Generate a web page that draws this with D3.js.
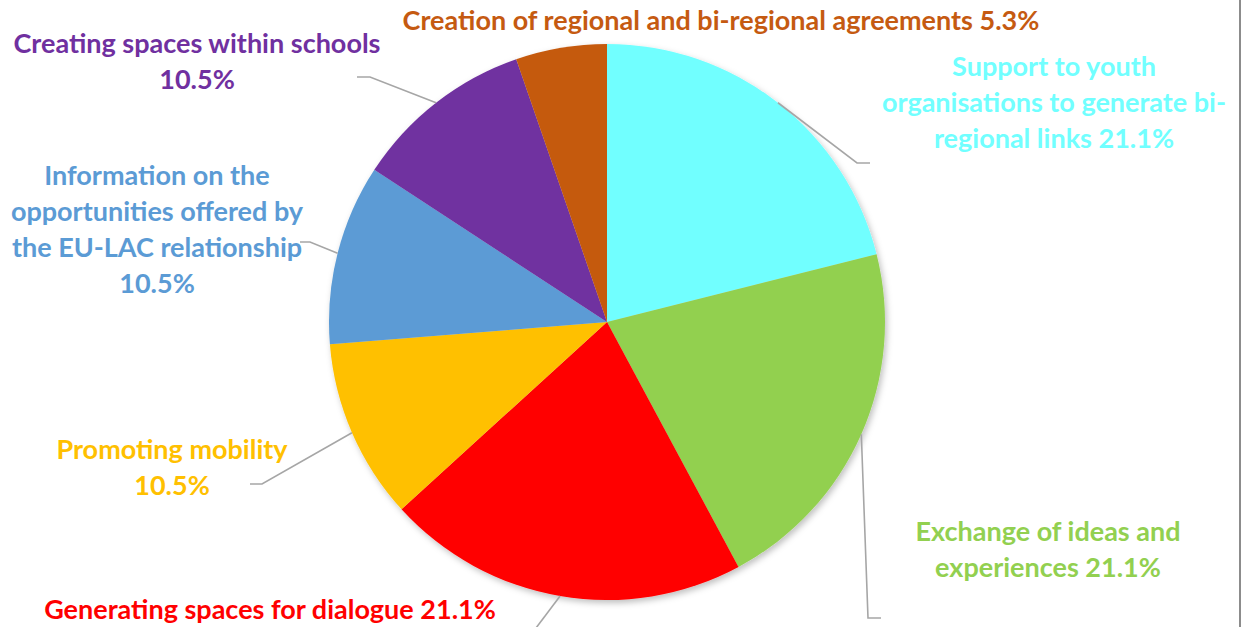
<!DOCTYPE html>
<html>
<head>
<meta charset="utf-8">
<script src="https://cdn.jsdelivr.net/npm/d3@7"></script>
<style>
  body { margin: 0; background: #fff; }
  text { font-family: Lato, "Open Sans", sans-serif; font-weight: bold; }
</style>
</head>
<body>
<svg id="chart" width="1248" height="627"></svg>
<script>
// slices, clockwise from 12 o'clock
const categories = [
  "Support to youth organisations to generate bi-regional links",
  "Exchange of ideas and experiences",
  "Generating spaces for dialogue",
  "Promoting mobility",
  "Information on the opportunities offered by the EU-LAC relationship",
  "Creating spaces within schools",
  "Creation of regional and bi-regional agreements"
];
const shares = [21.1, 21.1, 21.1, 10.5, 10.5, 10.5, 5.3];
const colors = ["#71FFFF", "#92D050", "#FF0000", "#FFC000", "#5B9BD5", "#7030A0", "#C55A11"];
// label text as it wraps in the picture
const labelLines = [
  ["Support to youth", "organisations to generate bi-", "regional links 21.1%"],
  ["Exchange of ideas and", "experiences 21.1%"],
  ["Generating spaces for dialogue 21.1%"],
  ["Promoting mobility", "10.5%"],
  ["Information on the", "opportunities offered by", "the EU-LAC relationship", "10.5%"],
  ["Creating spaces within schools", "10.5%"],
  ["Creation of regional and bi-regional agreements 5.3%"]
];

// layout: label centre x, first baseline, leader elbow + end
const layout = [
  { x: 1054, y: 76,  elbow: [857, 163], end: [870, 163] },
  { x: 1048, y: 541, elbow: [868, 618], end: [881, 618] },
  { x: 270,  y: 619, elbow: [533, 632], end: [533, 632] },
  { x: 172,  y: 459, elbow: [262, 484], end: [250, 484] },
  { x: 157,  y: 185, elbow: [310, 242], end: [300, 242] },
  { x: 197,  y: 53,  elbow: [370, 77],  end: [357, 77] },
  { x: 721,  y: 30,  elbow: null,       end: null }
];

const width = 1248, height = 627;
const cx = 607, cy = 322, r = 278;
const lineH = 36;

const svg = d3.select("#chart");

const defs = svg.append("defs");
const f = defs.append("filter").attr("id", "shadow")
  .attr("x", "-10%").attr("y", "-10%").attr("width", "120%").attr("height", "120%");
f.append("feDropShadow").attr("dx", 2).attr("dy", 3).attr("stdDeviation", 3)
  .attr("flood-color", "#000").attr("flood-opacity", 0.25);

const pie = d3.pie().sort(null).value(d => d)(shares);
const arc = d3.arc().innerRadius(0).outerRadius(r);
const edge = d3.arc().innerRadius(r).outerRadius(r);

const g = svg.append("g").attr("transform", `translate(${cx},${cy})`);
g.append("g").attr("filter", "url(#shadow)")
  .selectAll("path")
  .data(pie)
  .join("path")
  .attr("d", arc)
  .attr("fill", (d, i) => colors[i]);

// leader lines
pie.forEach((d, i) => {
  const L = layout[i];
  if (!L.elbow) return;
  const p = edge.centroid(d);
  const pts = [[cx + p[0], cy + p[1]], L.elbow, L.end];
  svg.append("path")
    .attr("d", d3.line()(pts))
    .attr("fill", "none")
    .attr("stroke", "#A6A6A6")
    .attr("stroke-width", 1.6);
});

// labels
labelLines.forEach((lines, i) => {
  const L = layout[i];
  const t = svg.append("text")
    .attr("text-anchor", "middle")
    .attr("font-size", 27)
    .attr("fill", colors[i]);
  lines.forEach((s, k) => {
    t.append("tspan")
      .attr("x", L.x)
      .attr("y", L.y + k * lineH)
      .text(s);
  });
});

// right frame edge
svg.append("line")
  .attr("x1", 1240).attr("x2", 1240)
  .attr("y1", 0).attr("y2", height)
  .attr("stroke", "#8C8C8C").attr("stroke-width", 2);
</script>
</body>
</html>
